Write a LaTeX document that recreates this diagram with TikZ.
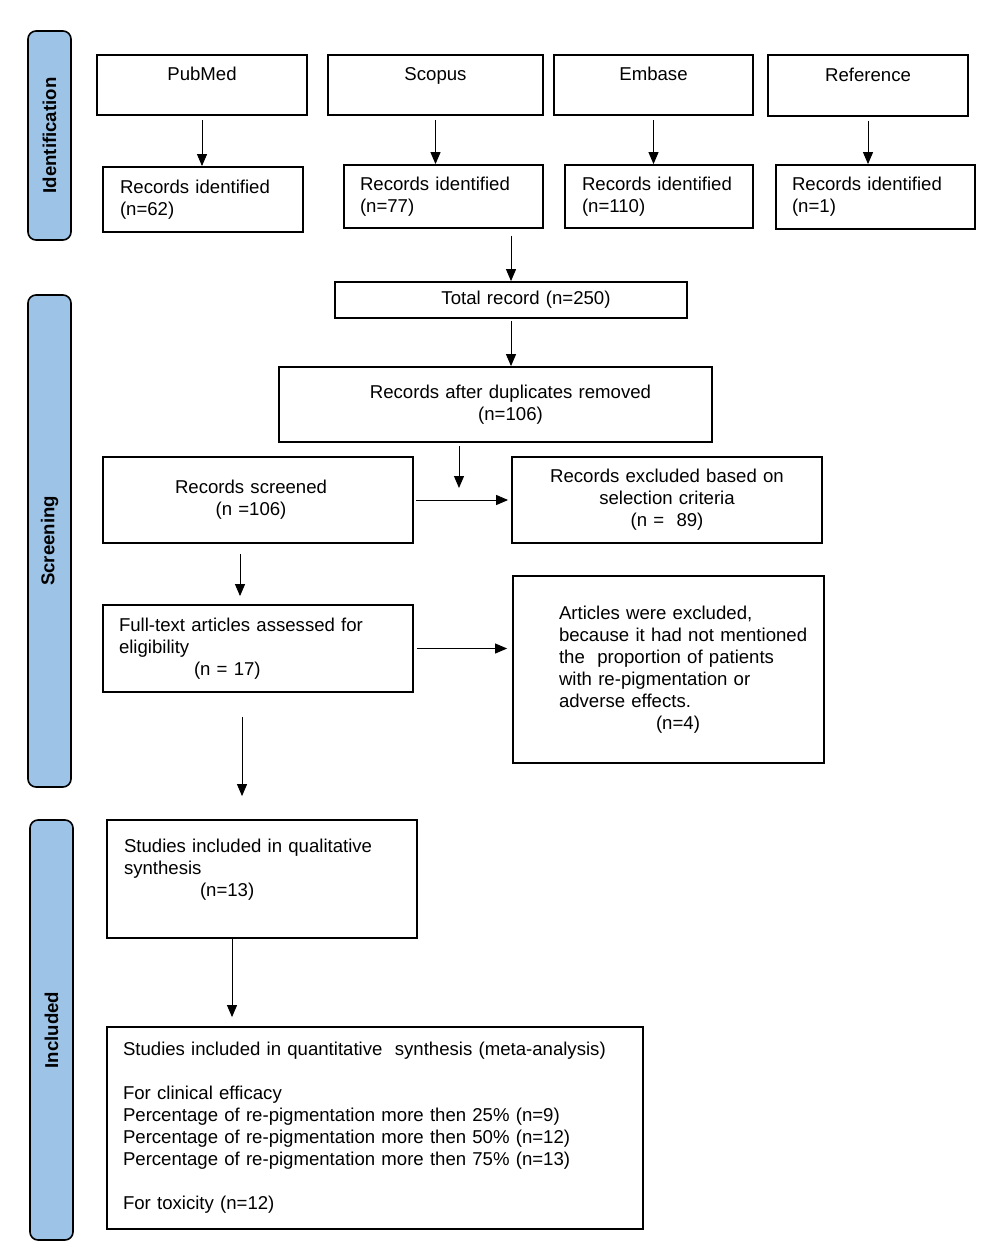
\documentclass[tikz,border=0pt]{standalone}
\usepackage{fontspec}
\setmainfont{Liberation Sans}
\usetikzlibrary{arrows.meta}
\definecolor{phaseblue}{RGB}{157,195,230}
\tikzset{>={Triangle[width=5pt,length=6pt]}}
\tikzset{
  box/.style={draw,line width=0.9pt,inner sep=0pt,align=center,font=\fontsize{9.3}{11}\selectfont},
  lbox/.style={box,align=left},
  pad/.style={execute at begin node={\advance\leftskip by #1\relax}},
  phase/.style={draw,line width=0.8pt,fill=phaseblue,rounded corners=4pt,rotate=90,inner sep=0pt,
    minimum height=21.5pt,font=\bfseries\fontsize{9.3}{11}\selectfont},
  arr/.style={->,line width=0.5pt}
}

\begin{document}
\begin{tikzpicture}[x=0.5pt,y=-0.5pt]
  \useasboundingbox (0,0) rectangle (993,1256);
  % phase bars
  \node[phase,minimum width=104.5pt] (idbar) at (49.5,135.5) {Identification};
  \node[phase,minimum width=246pt] (scbar) at (49.5,541) {Screening};
  \node[phase,minimum width=210pt] (inbar) at (51.5,1030) {Included};
  % databases
  \node[box,text width=105pt,minimum height=30pt] (pub) at (202,85) {PubMed\\~};
  \node[box,text width=107.5pt,minimum height=30pt] (sco) at (435.5,85) {Scopus\\~};
  \node[box,text width=99.5pt,minimum height=30pt] (emb) at (653.5,85) {Embase\\~};
  \node[box,text width=100pt,minimum height=30.5pt] (ref) at (868,85.5) {Reference\\~};
  \node[lbox,pad=8.5pt,text width=100pt,minimum height=32.5pt] (r1) at (203,199.5) {Records identified\\(n=62)};
  \node[lbox,pad=8pt,text width=99.5pt,minimum height=31.5pt] (r2) at (443.5,196.5) {Records identified\\(n=77)};
  \node[lbox,pad=8.5pt,text width=94pt,minimum height=31.5pt] (r3) at (659,196.5) {Records identified\\(n=110)};
  \node[lbox,pad=8pt,text width=99.5pt,minimum height=32pt] (r4) at (875.5,197) {Records identified\\(n=1)};
  \foreach \a/\b in {pub/r1,sco/r2,emb/r3,ref/r4}
    \draw[arr,shorten <=2pt] (\a.south) -- (\a.south |- \b.north);
  % screening
  \node[box,pad=15pt,text width=176pt,minimum height=18pt] (total) at (511,300) {Total record (n=250)};
  \node[box,pad=15pt,text width=216.5pt,minimum height=37.5pt] (dup) at (495.5,404.5) {Records after duplicates removed\\(n=106)};
  \node[box,pad=-7pt,text width=155pt,minimum height=43pt] (scr) at (258,500) {Records screened\\(n =106)};
  \node[box,text width=155pt,minimum height=43pt] (exc) at (667,500) {Records excluded based on\\selection criteria\\(n =\ \ 89)};
  \node[lbox,pad=8pt,text width=155pt,minimum height=43.5pt] (ft) at (258,648.5) {Full-text articles assessed for\\eligibility\\\hspace*{37.5pt}(n = 17)};
  \node[lbox,pad=23pt,text width=155.5pt,minimum height=93.5pt] (ex2) at (668.5,669.5) {Articles were excluded,\\because it had not mentioned\\the\ \ proportion of patients\\with re-pigmentation or\\adverse effects.\\\hspace*{48.5pt}(n=4)};
  \coordinate (split) at (459,488);
  \draw[arr,shorten <=3.5pt] (total.north |- r2.south) -- (total.north);
  \draw[arr,shorten <=1pt] (total.south) -- (total.south |- dup.north);
  \draw[arr,shorten <=1.5pt] (dup.south -| split) -- (split);
  \draw[arr,shorten <=1pt,shorten >=1.5pt] (scr.east) -- (exc.west);
  \draw[arr] ([xshift=-9pt,yshift=-5pt]scr.south) -- ([xshift=-9pt,yshift=4pt]ft.north);
  \draw[arr,shorten <=1.5pt,shorten >=2.5pt] (ft.east) -- (ft.east -| ex2.west);
  % included
  \node[lbox,pad=8.5pt,text width=155pt,minimum height=59pt] (qual) at (262,879) {Studies included in qualitative\\synthesis\\\hspace*{38pt}(n=13)\\~};
  \node[lbox,pad=8pt,text width=268pt,minimum height=101pt] (quant) at (375,1128) {Studies included in quantitative\ \ synthesis (meta-analysis)\\[11pt]
    For clinical efficacy\\
    Percentage of re-pigmentation more then 25\% (n=9)\\
    Percentage of re-pigmentation more then 50\% (n=12)\\
    Percentage of re-pigmentation more then 75\% (n=13)\\[11pt]
    For toxicity (n=12)};
  \draw[arr] ([xshift=-8pt,yshift=-12pt]ft.south) -- ([xshift=-10pt,yshift=11.5pt]qual.north);
  \draw[arr] ([xshift=-15pt]qual.south) -- ([xshift=-71.5pt,yshift=4.5pt]quant.north);
\end{tikzpicture}
\end{document}
